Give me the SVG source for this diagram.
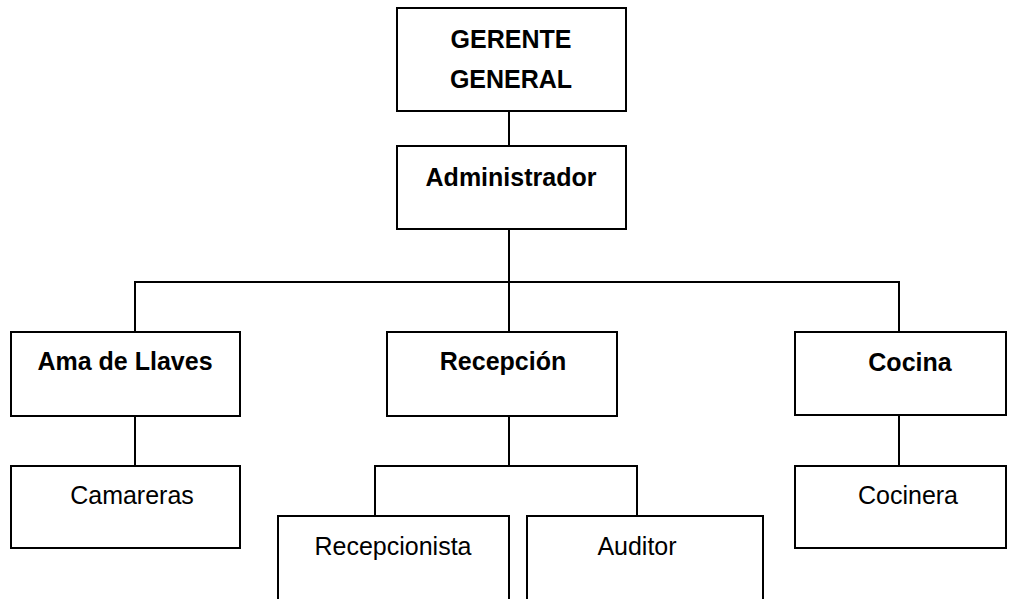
<svg xmlns="http://www.w3.org/2000/svg" width="1017" height="599" viewBox="0 0 1017 599">
<style>
.box{fill:#fff;stroke:#000;stroke-width:2}
.ln{fill:none;stroke:#000;stroke-width:2}
.b{font-family:"Liberation Sans",Arial,sans-serif;font-size:25px;font-weight:bold;text-anchor:middle;fill:#000}
.r{font-family:"Liberation Sans",Arial,sans-serif;font-size:25px;text-anchor:middle;fill:#000}
</style>
<rect width="1017" height="599" fill="#fff"/>
<g id="connectors">
<path class="ln" d="M509 111V146"/>
<path class="ln" d="M509 229V332"/>
<path class="ln" d="M135 332V282H899V332"/>
<path class="ln" d="M135 416V466"/>
<path class="ln" d="M899 415V466"/>
<path class="ln" d="M509 416V466"/>
<path class="ln" d="M375 516V466H637V518"/>
</g>
<g id="gerente"><rect class="box" x="397" y="8" width="229" height="103"/><text class="b" x="511" y="48">GERENTE</text><text class="b" x="511" y="88">GENERAL</text></g>
<g id="administrador"><rect class="box" x="397" y="146" width="229" height="83"/><text class="b" x="511" y="186">Administrador</text></g>
<g id="ama"><rect class="box" x="11" y="332" width="229" height="84"/><text class="b" x="125" y="370">Ama de Llaves</text></g>
<g id="recepcion"><rect class="box" x="387" y="332" width="230" height="84"/><text class="b" x="503" y="370">Recepción</text></g>
<g id="cocina"><rect class="box" x="795" y="332" width="211" height="83"/><text class="b" x="910" y="371">Cocina</text></g>
<g id="camareras"><rect class="box" x="11" y="466" width="229" height="82"/><text class="r" x="132" y="504">Camareras</text></g>
<g id="cocinera"><rect class="box" x="795" y="466" width="211" height="82"/><text class="r" x="908" y="504">Cocinera</text></g>
<g id="recepcionista"><rect class="box" x="278" y="516" width="231" height="100"/><text class="r" x="393" y="555">Recepcionista</text></g>
<g id="auditor"><rect class="box" x="527" y="516" width="236" height="100"/><text class="r" x="637" y="555">Auditor</text></g>
</svg>
